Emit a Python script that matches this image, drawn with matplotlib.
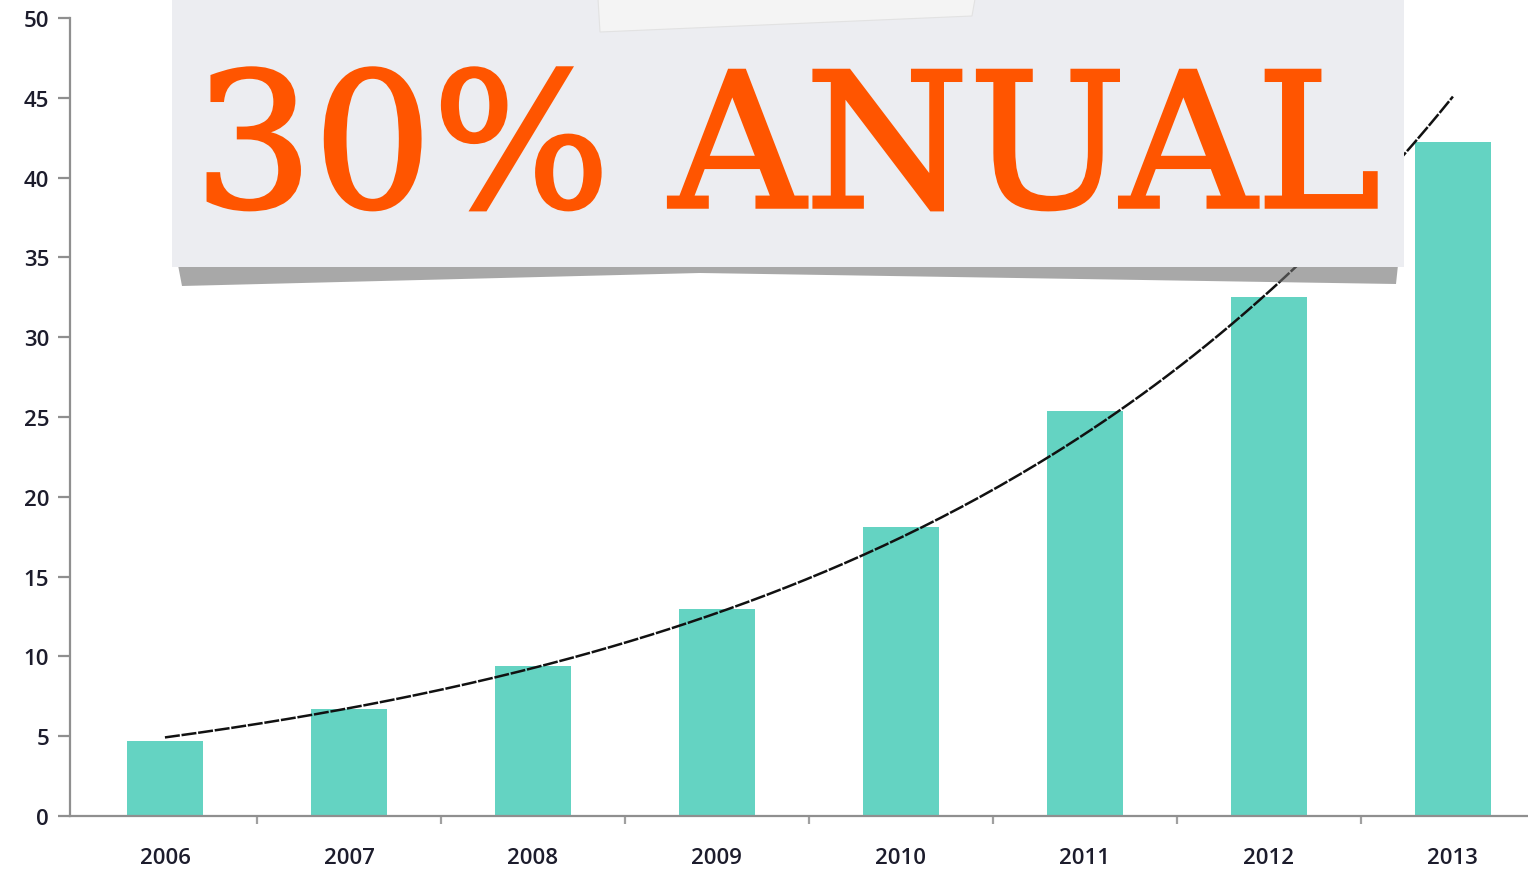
import numpy as np
import matplotlib
matplotlib.use("Agg")
import matplotlib.pyplot as plt
from matplotlib.patches import Rectangle, Polygon
import matplotlib.patheffects as pe

years = ["2006", "2007", "2008", "2009", "2010", "2011", "2012", "2013"]
values = [4.7, 6.7, 9.4, 13.0, 18.1, 25.4, 32.5, 42.2]
y_ticks = [0, 5, 10, 15, 20, 25, 30, 35, 40, 45, 50]
banner_text = "30% ANUAL"

W, H = 1528, 870
fig = plt.figure(figsize=(W / 100, H / 100), dpi=100)
fig.patch.set_facecolor("white")

ax = fig.add_axes([70 / W, (H - 817) / H, (W - 70) / W, (817 - 19) / H])
x = np.arange(len(years))
ax.bar(x, values, width=0.41, color="#64D3C2", zorder=2)

# exponential trendline fitted to the data
b, a = np.polyfit(x, np.log(values), 1)
xs = np.linspace(0, len(years) - 1, 200)
ax.plot(xs, np.exp(a + b * xs), color="#111111", lw=1.8, ls=(0, (6, 0.7)), zorder=3)

ax.set_yticks(y_ticks)
ax.set_yticklabels([str(v) for v in y_ticks])
ax.set_xticks(x)
ax.set_xticklabels(years)
ax.set_xticks(np.arange(0.5, len(years) - 1, 1), minor=True)
ax.set_xlim(-0.516, 7.408)
ax.set_ylim(0, 50)
for s in ["top", "right"]:
    ax.spines[s].set_visible(False)
for s in ["left", "bottom"]:
    ax.spines[s].set_color("#8f8f8f")
    ax.spines[s].set_linewidth(1.6)
ax.tick_params(axis="y", direction="out", length=9, width=1.6, color="#8f8f8f",
               labelsize=16, labelcolor="#1c1c2c", pad=6)
ax.tick_params(axis="x", which="major", length=0, labelsize=16, labelcolor="#1c1c2c", pad=22)
ax.tick_params(axis="x", which="minor", direction="out", length=6, width=1.6, color="#a0a0a0")
for lbl in ax.get_xticklabels() + ax.get_yticklabels():
    lbl.set_family(["Open Sans", "DejaVu Sans"])
    lbl.set_fontweight("semibold")

# banner overlay (pixel coordinates, origin at top-left)
def px(xp, yp):
    return (xp / W, 1 - yp / H)

shadow = Polygon([px(178, 266), px(1398, 266), px(1396, 285), px(700, 274), px(182, 287)],
                 closed=True, transform=fig.transFigure, facecolor="#6f6f6f",
                 edgecolor="none", alpha=0.6, zorder=9)
fig.patches.append(shadow)
banner = Rectangle(px(172, 268), (1404 - 172) / W, 268 / H, transform=fig.transFigure,
                   facecolor="#ECEDF1", edgecolor="none", zorder=10)
fig.patches.append(banner)
tape = Polygon([px(598, 0), px(975, 0), px(972, 17), px(600, 33)], closed=True,
               transform=fig.transFigure, facecolor="#F4F4F4", edgecolor="#e2e2e2",
               lw=0.8, zorder=11)
fig.patches.append(tape)

t = fig.text(194 / W, 1 - 208 / H, banner_text, color="#FF5500", fontsize=140,
             family=["DejaVu Serif"], fontweight="normal", ha="left", va="baseline", zorder=12,
             path_effects=[pe.withStroke(linewidth=2.5, foreground="#FF5500", joinstyle="miter")])
# fit the banner text width to the reference span (194..1381 px)
fig.canvas.draw()
bb = t.get_window_extent()
t.set_fontsize(140 * (1381 - 194) / bb.width)

fig.savefig("out.png", dpi=100, facecolor="white")
